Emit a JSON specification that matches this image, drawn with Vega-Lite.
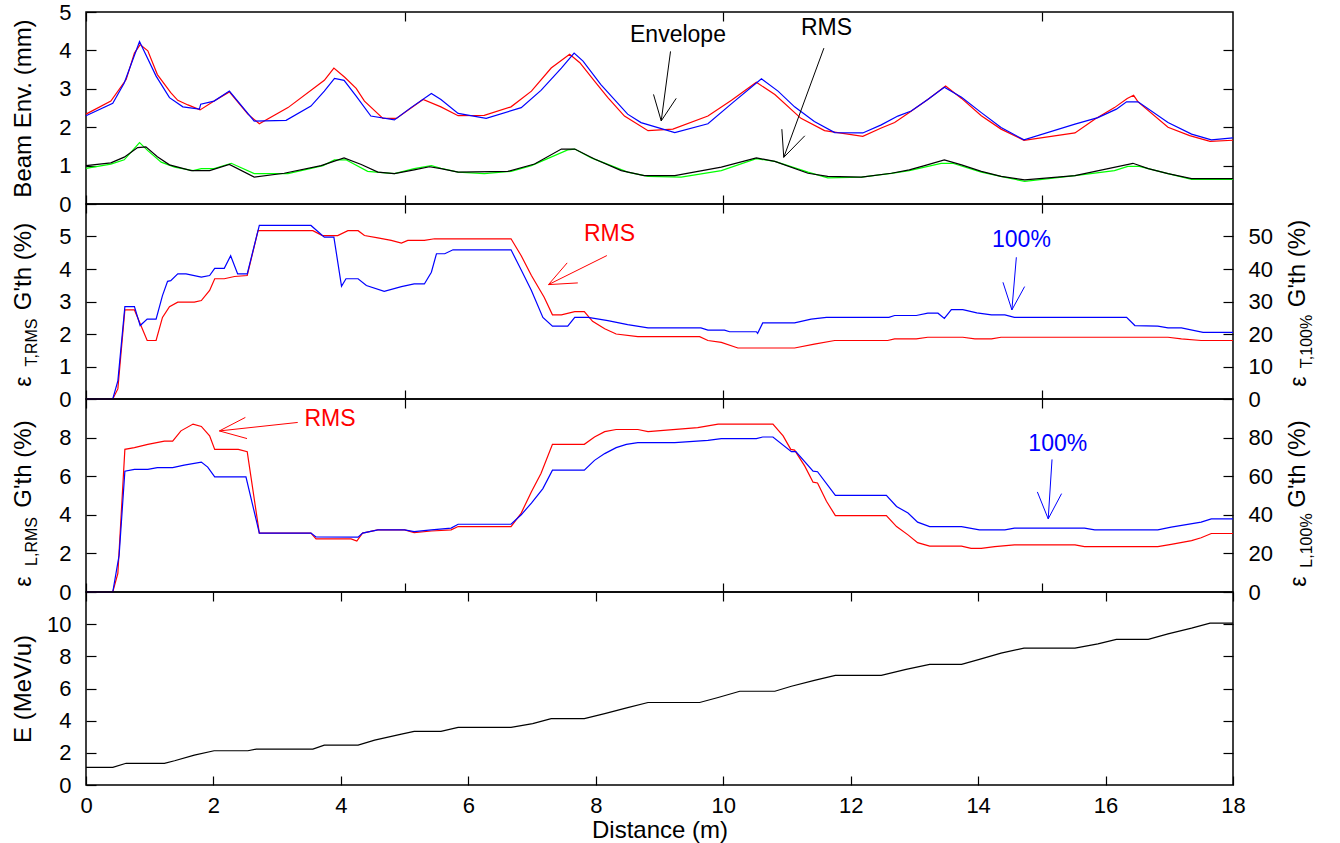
{
"$schema": "https://vega.github.io/schema/vega-lite/v6.json",
"padding": {"left": 10, "top": 0, "right": 5, "bottom": 5},
"spacing": 0,
"bounds": "flush",
"config": {
  "font": "Liberation Sans",
  "view": {"stroke": "black", "strokeWidth": 1.5},
  "axis": {"domain": false, "grid": false, "tickColor": "black", "tickWidth": 1.2, "tickSize": -10, "labelPadding": 25, "labelFont": "Liberation Sans", "labelFontSize": 22, "labelColor": "black", "titleFont": "Liberation Sans", "titleFontSize": 24, "titleFontWeight": "normal", "titleColor": "black", "labelFlush": false},
  "axisX": {"tickSize": -9, "labelPadding": 19},
  "line": {"strokeWidth": 1.2}
},
"datasets": {
  "env": [
    {"series":"Envelope, case A","x":0,"y":2.34},{"series":"Envelope, case A","x":0.39,"y":2.68},{"series":"Envelope, case A","x":0.63,"y":3.24},{"series":"Envelope, case A","x":0.76,"y":3.93},{"series":"Envelope, case A","x":0.85,"y":4.15},{"series":"Envelope, case A","x":0.97,"y":3.99},{"series":"Envelope, case A","x":1.12,"y":3.37},{"series":"Envelope, case A","x":1.33,"y":2.9},{"series":"Envelope, case A","x":1.44,"y":2.7},{"series":"Envelope, case A","x":1.6,"y":2.58},{"series":"Envelope, case A","x":1.79,"y":2.45},{"series":"Envelope, case A","x":2.01,"y":2.68},{"series":"Envelope, case A","x":2.25,"y":2.92},{"series":"Envelope, case A","x":2.54,"y":2.34},{"series":"Envelope, case A","x":2.72,"y":2.09},{"series":"Envelope, case A","x":3.17,"y":2.51},{"series":"Envelope, case A","x":3.74,"y":3.22},{"series":"Envelope, case A","x":3.89,"y":3.54},{"series":"Envelope, case A","x":4.06,"y":3.3},{"series":"Envelope, case A","x":4.24,"y":3.01},{"series":"Envelope, case A","x":4.37,"y":2.68},{"series":"Envelope, case A","x":4.66,"y":2.23},{"series":"Envelope, case A","x":4.87,"y":2.23},{"series":"Envelope, case A","x":5.29,"y":2.72},{"series":"Envelope, case A","x":5.57,"y":2.53},{"series":"Envelope, case A","x":5.84,"y":2.3},{"series":"Envelope, case A","x":6.25,"y":2.31},{"series":"Envelope, case A","x":6.67,"y":2.53},{"series":"Envelope, case A","x":6.99,"y":2.94},{"series":"Envelope, case A","x":7.3,"y":3.54},{"series":"Envelope, case A","x":7.59,"y":3.9},{"series":"Envelope, case A","x":7.75,"y":3.68},{"series":"Envelope, case A","x":7.98,"y":3.2},{"series":"Envelope, case A","x":8.19,"y":2.77},{"series":"Envelope, case A","x":8.45,"y":2.29},{"series":"Envelope, case A","x":8.82,"y":1.91},{"series":"Envelope, case A","x":9.21,"y":1.95},{"series":"Envelope, case A","x":9.76,"y":2.29},{"series":"Envelope, case A","x":10.13,"y":2.7},{"series":"Envelope, case A","x":10.52,"y":3.17},{"series":"Envelope, case A","x":10.81,"y":2.85},{"series":"Envelope, case A","x":11.22,"y":2.23},{"series":"Envelope, case A","x":11.59,"y":1.91},{"series":"Envelope, case A","x":12.19,"y":1.76},{"series":"Envelope, case A","x":12.48,"y":1.98},{"series":"Envelope, case A","x":12.69,"y":2.12},{"series":"Envelope, case A","x":12.92,"y":2.38},{"series":"Envelope, case A","x":13.21,"y":2.72},{"series":"Envelope, case A","x":13.49,"y":3.07},{"series":"Envelope, case A","x":13.74,"y":2.75},{"series":"Envelope, case A","x":14.05,"y":2.3},{"series":"Envelope, case A","x":14.36,"y":1.95},{"series":"Envelope, case A","x":14.72,"y":1.66},{"series":"Envelope, case A","x":15.52,"y":1.85},{"series":"Envelope, case A","x":15.83,"y":2.21},{"series":"Envelope, case A","x":16.14,"y":2.51},{"series":"Envelope, case A","x":16.34,"y":2.75},{"series":"Envelope, case A","x":16.44,"y":2.83},{"series":"Envelope, case A","x":16.51,"y":2.66},{"series":"Envelope, case A","x":16.98,"y":2.0},{"series":"Envelope, case A","x":17.32,"y":1.78},{"series":"Envelope, case A","x":17.64,"y":1.63},{"series":"Envelope, case A","x":18,"y":1.66},
    {"series":"Envelope, case B","x":0,"y":2.3},{"series":"Envelope, case B","x":0.42,"y":2.62},{"series":"Envelope, case B","x":0.6,"y":3.15},{"series":"Envelope, case B","x":0.84,"y":4.23},{"series":"Envelope, case B","x":1.1,"y":3.33},{"series":"Envelope, case B","x":1.31,"y":2.77},{"series":"Envelope, case B","x":1.52,"y":2.53},{"series":"Envelope, case B","x":1.78,"y":2.47},{"series":"Envelope, case B","x":1.8,"y":2.6},{"series":"Envelope, case B","x":2.01,"y":2.68},{"series":"Envelope, case B","x":2.25,"y":2.94},{"series":"Envelope, case B","x":2.64,"y":2.16},{"series":"Envelope, case B","x":3.14,"y":2.18},{"series":"Envelope, case B","x":3.53,"y":2.55},{"series":"Envelope, case B","x":3.74,"y":2.94},{"series":"Envelope, case B","x":3.9,"y":3.27},{"series":"Envelope, case B","x":4.05,"y":3.22},{"series":"Envelope, case B","x":4.24,"y":2.81},{"series":"Envelope, case B","x":4.47,"y":2.29},{"series":"Envelope, case B","x":4.84,"y":2.19},{"series":"Envelope, case B","x":5.1,"y":2.51},{"series":"Envelope, case B","x":5.42,"y":2.88},{"series":"Envelope, case B","x":5.57,"y":2.72},{"series":"Envelope, case B","x":5.84,"y":2.36},{"series":"Envelope, case B","x":6.28,"y":2.23},{"series":"Envelope, case B","x":6.83,"y":2.51},{"series":"Envelope, case B","x":7.14,"y":2.96},{"series":"Envelope, case B","x":7.46,"y":3.54},{"series":"Envelope, case B","x":7.66,"y":3.93},{"series":"Envelope, case B","x":7.8,"y":3.72},{"series":"Envelope, case B","x":8.08,"y":3.11},{"series":"Envelope, case B","x":8.5,"y":2.34},{"series":"Envelope, case B","x":8.71,"y":2.12},{"series":"Envelope, case B","x":9.24,"y":1.86},{"series":"Envelope, case B","x":9.76,"y":2.09},{"series":"Envelope, case B","x":10.15,"y":2.64},{"series":"Envelope, case B","x":10.6,"y":3.26},{"series":"Envelope, case B","x":10.86,"y":2.94},{"series":"Envelope, case B","x":11.12,"y":2.53},{"series":"Envelope, case B","x":11.43,"y":2.15},{"series":"Envelope, case B","x":11.75,"y":1.86},{"series":"Envelope, case B","x":12.19,"y":1.85},{"series":"Envelope, case B","x":12.48,"y":2.06},{"series":"Envelope, case B","x":12.74,"y":2.29},{"series":"Envelope, case B","x":12.95,"y":2.42},{"series":"Envelope, case B","x":13.21,"y":2.72},{"series":"Envelope, case B","x":13.47,"y":3.04},{"series":"Envelope, case B","x":13.74,"y":2.78},{"series":"Envelope, case B","x":14.05,"y":2.38},{"series":"Envelope, case B","x":14.36,"y":1.99},{"series":"Envelope, case B","x":14.72,"y":1.67},{"series":"Envelope, case B","x":15.52,"y":2.08},{"series":"Envelope, case B","x":15.88,"y":2.25},{"series":"Envelope, case B","x":16.17,"y":2.47},{"series":"Envelope, case B","x":16.33,"y":2.66},{"series":"Envelope, case B","x":16.51,"y":2.66},{"series":"Envelope, case B","x":16.98,"y":2.12},{"series":"Envelope, case B","x":17.35,"y":1.82},{"series":"Envelope, case B","x":17.66,"y":1.67},{"series":"Envelope, case B","x":18,"y":1.72},
    {"series":"RMS, case A","x":0,"y":0.93},{"series":"RMS, case A","x":0.39,"y":1.04},{"series":"RMS, case A","x":0.6,"y":1.15},{"series":"RMS, case A","x":0.84,"y":1.6},{"series":"RMS, case A","x":0.97,"y":1.39},{"series":"RMS, case A","x":1.18,"y":1.09},{"series":"RMS, case A","x":1.39,"y":0.96},{"series":"RMS, case A","x":1.68,"y":0.87},{"series":"RMS, case A","x":1.81,"y":0.92},{"series":"RMS, case A","x":2.01,"y":0.92},{"series":"RMS, case A","x":2.28,"y":1.06},{"series":"RMS, case A","x":2.64,"y":0.79},{"series":"RMS, case A","x":3.17,"y":0.79},{"series":"RMS, case A","x":3.72,"y":1.0},{"series":"RMS, case A","x":3.9,"y":1.15},{"series":"RMS, case A","x":4.08,"y":1.15},{"series":"RMS, case A","x":4.42,"y":0.85},{"series":"RMS, case A","x":4.84,"y":0.79},{"series":"RMS, case A","x":5.15,"y":0.92},{"series":"RMS, case A","x":5.42,"y":1.0},{"series":"RMS, case A","x":5.57,"y":0.93},{"series":"RMS, case A","x":5.84,"y":0.83},{"series":"RMS, case A","x":6.25,"y":0.79},{"series":"RMS, case A","x":6.67,"y":0.85},{"series":"RMS, case A","x":6.99,"y":1.0},{"series":"RMS, case A","x":7.56,"y":1.41},{"series":"RMS, case A","x":7.67,"y":1.43},{"series":"RMS, case A","x":7.93,"y":1.2},{"series":"RMS, case A","x":8.5,"y":0.83},{"series":"RMS, case A","x":8.82,"y":0.72},{"series":"RMS, case A","x":9.34,"y":0.7},{"series":"RMS, case A","x":9.97,"y":0.87},{"series":"RMS, case A","x":10.52,"y":1.18},{"series":"RMS, case A","x":10.81,"y":1.11},{"series":"RMS, case A","x":11.33,"y":0.83},{"series":"RMS, case A","x":11.64,"y":0.68},{"series":"RMS, case A","x":12.17,"y":0.7},{"series":"RMS, case A","x":12.64,"y":0.8},{"series":"RMS, case A","x":12.92,"y":0.87},{"series":"RMS, case A","x":13.42,"y":1.06},{"series":"RMS, case A","x":13.6,"y":1.06},{"series":"RMS, case A","x":14.05,"y":0.83},{"series":"RMS, case A","x":14.41,"y":0.7},{"series":"RMS, case A","x":14.73,"y":0.59},{"series":"RMS, case A","x":15.52,"y":0.74},{"series":"RMS, case A","x":16.14,"y":0.87},{"series":"RMS, case A","x":16.35,"y":0.98},{"series":"RMS, case A","x":16.53,"y":0.98},{"series":"RMS, case A","x":16.98,"y":0.79},{"series":"RMS, case A","x":17.35,"y":0.64},{"series":"RMS, case A","x":18,"y":0.64},
    {"series":"RMS, case B","x":0,"y":1.0},{"series":"RMS, case B","x":0.39,"y":1.07},{"series":"RMS, case B","x":0.6,"y":1.22},{"series":"RMS, case B","x":0.81,"y":1.47},{"series":"RMS, case B","x":0.94,"y":1.49},{"series":"RMS, case B","x":1.12,"y":1.23},{"series":"RMS, case B","x":1.31,"y":1.02},{"series":"RMS, case B","x":1.65,"y":0.87},{"series":"RMS, case B","x":1.94,"y":0.87},{"series":"RMS, case B","x":2.25,"y":1.03},{"series":"RMS, case B","x":2.64,"y":0.7},{"series":"RMS, case B","x":3.11,"y":0.8},{"series":"RMS, case B","x":3.69,"y":1.0},{"series":"RMS, case B","x":4.05,"y":1.2},{"series":"RMS, case B","x":4.32,"y":1.03},{"series":"RMS, case B","x":4.58,"y":0.83},{"series":"RMS, case B","x":4.84,"y":0.79},{"series":"RMS, case B","x":5.15,"y":0.89},{"series":"RMS, case B","x":5.39,"y":0.97},{"series":"RMS, case B","x":5.57,"y":0.92},{"series":"RMS, case B","x":5.84,"y":0.83},{"series":"RMS, case B","x":6.62,"y":0.85},{"series":"RMS, case B","x":7.04,"y":1.04},{"series":"RMS, case B","x":7.46,"y":1.43},{"series":"RMS, case B","x":7.67,"y":1.43},{"series":"RMS, case B","x":7.98,"y":1.17},{"series":"RMS, case B","x":8.4,"y":0.87},{"series":"RMS, case B","x":8.76,"y":0.74},{"series":"RMS, case B","x":9.24,"y":0.74},{"series":"RMS, case B","x":9.97,"y":0.96},{"series":"RMS, case B","x":10.52,"y":1.2},{"series":"RMS, case B","x":10.81,"y":1.11},{"series":"RMS, case B","x":11.33,"y":0.8},{"series":"RMS, case B","x":11.64,"y":0.72},{"series":"RMS, case B","x":12.17,"y":0.7},{"series":"RMS, case B","x":12.64,"y":0.8},{"series":"RMS, case B","x":12.92,"y":0.89},{"series":"RMS, case B","x":13.16,"y":1.0},{"series":"RMS, case B","x":13.47,"y":1.15},{"series":"RMS, case B","x":13.74,"y":1.02},{"series":"RMS, case B","x":14.05,"y":0.85},{"series":"RMS, case B","x":14.36,"y":0.72},{"series":"RMS, case B","x":14.73,"y":0.63},{"series":"RMS, case B","x":15.52,"y":0.74},{"series":"RMS, case B","x":16.04,"y":0.92},{"series":"RMS, case B","x":16.43,"y":1.06},{"series":"RMS, case B","x":16.67,"y":0.92},{"series":"RMS, case B","x":16.98,"y":0.79},{"series":"RMS, case B","x":17.35,"y":0.66},{"series":"RMS, case B","x":18,"y":0.66}
  ],
  "trms": [
    {"x":0,"y":0},{"x":0.42,"y":0},{"x":0.5,"y":0.31},{"x":0.61,"y":2.74},{"x":0.76,"y":2.74},{"x":0.96,"y":1.8},{"x":1.1,"y":1.8},{"x":1.2,"y":2.51},{"x":1.31,"y":2.84},{"x":1.44,"y":2.98},{"x":1.7,"y":2.98},{"x":1.81,"y":3.03},{"x":1.94,"y":3.34},{"x":2.02,"y":3.7},{"x":2.17,"y":3.7},{"x":2.33,"y":3.77},{"x":2.53,"y":3.8},{"x":2.7,"y":5.18},{"x":3.56,"y":5.18},{"x":3.71,"y":5.03},{"x":3.95,"y":5.03},{"x":4.11,"y":5.18},{"x":4.27,"y":5.18},{"x":4.37,"y":5.03},{"x":4.58,"y":4.96},{"x":4.79,"y":4.88},{"x":4.95,"y":4.8},{"x":5.05,"y":4.88},{"x":5.31,"y":4.88},{"x":5.47,"y":4.93},{"x":6.67,"y":4.93},{"x":6.83,"y":4.41},{"x":6.99,"y":3.8},{"x":7.19,"y":3.13},{"x":7.32,"y":2.59},{"x":7.46,"y":2.59},{"x":7.67,"y":2.69},{"x":7.82,"y":2.69},{"x":7.95,"y":2.39},{"x":8.14,"y":2.16},{"x":8.32,"y":2.0},{"x":8.66,"y":1.92},{"x":9.63,"y":1.92},{"x":9.76,"y":1.8},{"x":9.97,"y":1.74},{"x":10.23,"y":1.57},{"x":11.12,"y":1.57},{"x":11.43,"y":1.69},{"x":11.75,"y":1.8},{"x":12.58,"y":1.8},{"x":12.69,"y":1.85},{"x":13.03,"y":1.85},{"x":13.21,"y":1.9},{"x":13.76,"y":1.9},{"x":13.95,"y":1.85},{"x":14.21,"y":1.85},{"x":14.36,"y":1.9},{"x":16.98,"y":1.9},{"x":17.19,"y":1.85},{"x":17.5,"y":1.8},{"x":18,"y":1.8}
  ],
  "t100": [
    {"x":0,"y":0},{"x":0.42,"y":0},{"x":0.5,"y":5.6},{"x":0.61,"y":28.4},{"x":0.76,"y":28.4},{"x":0.85,"y":22.6},{"x":0.96,"y":24.6},{"x":1.1,"y":24.6},{"x":1.2,"y":31.8},{"x":1.28,"y":36.2},{"x":1.33,"y":36.4},{"x":1.44,"y":38.5},{"x":1.57,"y":38.5},{"x":1.81,"y":37.5},{"x":1.94,"y":38.0},{"x":2.02,"y":40.2},{"x":2.17,"y":40.2},{"x":2.27,"y":44.1},{"x":2.38,"y":38.5},{"x":2.53,"y":38.5},{"x":2.72,"y":53.4},{"x":3.53,"y":53.4},{"x":3.74,"y":49.8},{"x":3.89,"y":49.8},{"x":4.01,"y":34.7},{"x":4.08,"y":37.0},{"x":4.27,"y":37.0},{"x":4.4,"y":34.9},{"x":4.68,"y":33.1},{"x":4.95,"y":34.6},{"x":5.15,"y":35.4},{"x":5.31,"y":35.4},{"x":5.42,"y":39.0},{"x":5.5,"y":44.7},{"x":5.63,"y":44.7},{"x":5.76,"y":45.9},{"x":6.67,"y":45.9},{"x":6.83,"y":39.7},{"x":6.99,"y":33.4},{"x":7.17,"y":25.1},{"x":7.32,"y":22.4},{"x":7.56,"y":22.4},{"x":7.67,"y":25.1},{"x":7.88,"y":25.1},{"x":8.19,"y":24.1},{"x":8.5,"y":22.9},{"x":8.82,"y":21.9},{"x":9.65,"y":21.9},{"x":9.76,"y":21.2},{"x":10.02,"y":21.2},{"x":10.1,"y":20.7},{"x":10.52,"y":20.7},{"x":10.54,"y":20.2},{"x":10.62,"y":23.4},{"x":11.12,"y":23.4},{"x":11.38,"y":24.6},{"x":11.62,"y":25.1},{"x":12.6,"y":25.1},{"x":12.69,"y":25.7},{"x":13.03,"y":25.7},{"x":13.21,"y":26.4},{"x":13.37,"y":26.4},{"x":13.47,"y":24.8},{"x":13.58,"y":27.5},{"x":13.76,"y":27.5},{"x":13.98,"y":26.5},{"x":14.21,"y":25.9},{"x":14.42,"y":25.9},{"x":14.57,"y":25.1},{"x":16.33,"y":25.1},{"x":16.46,"y":22.6},{"x":16.82,"y":22.4},{"x":16.98,"y":21.9},{"x":17.19,"y":21.9},{"x":17.53,"y":20.5},{"x":18,"y":20.5}
  ],
  "lrms": [
    {"x":0,"y":0},{"x":0.42,"y":0},{"x":0.5,"y":0.96},{"x":0.61,"y":7.39},{"x":0.76,"y":7.48},{"x":0.97,"y":7.65},{"x":1.23,"y":7.82},{"x":1.36,"y":7.82},{"x":1.49,"y":8.35},{"x":1.68,"y":8.7},{"x":1.81,"y":8.58},{"x":1.94,"y":8.09},{"x":2.02,"y":7.39},{"x":2.39,"y":7.39},{"x":2.53,"y":7.27},{"x":2.72,"y":3.05},{"x":3.53,"y":3.05},{"x":3.61,"y":2.75},{"x":4.16,"y":2.75},{"x":4.25,"y":2.64},{"x":4.34,"y":3.05},{"x":4.58,"y":3.22},{"x":5.0,"y":3.22},{"x":5.15,"y":3.08},{"x":5.42,"y":3.16},{"x":5.73,"y":3.22},{"x":5.84,"y":3.39},{"x":6.67,"y":3.39},{"x":6.83,"y":4.09},{"x":6.99,"y":5.19},{"x":7.14,"y":6.14},{"x":7.32,"y":7.65},{"x":7.82,"y":7.65},{"x":7.98,"y":8.03},{"x":8.14,"y":8.31},{"x":8.32,"y":8.42},{"x":8.66,"y":8.42},{"x":8.82,"y":8.31},{"x":9.6,"y":8.52},{"x":9.92,"y":8.7},{"x":10.78,"y":8.7},{"x":10.94,"y":8.09},{"x":11.06,"y":7.39},{"x":11.12,"y":7.35},{"x":11.28,"y":6.52},{"x":11.41,"y":5.69},{"x":11.48,"y":5.65},{"x":11.62,"y":4.7},{"x":11.76,"y":3.96},{"x":12.56,"y":3.96},{"x":12.72,"y":3.39},{"x":12.9,"y":2.96},{"x":13.05,"y":2.56},{"x":13.24,"y":2.38},{"x":13.74,"y":2.38},{"x":13.89,"y":2.26},{"x":14.05,"y":2.26},{"x":14.26,"y":2.35},{"x":14.57,"y":2.44},{"x":15.52,"y":2.44},{"x":15.67,"y":2.35},{"x":16.82,"y":2.35},{"x":17.03,"y":2.47},{"x":17.35,"y":2.66},{"x":17.5,"y":2.81},{"x":17.66,"y":3.03},{"x":18,"y":3.03}
  ],
  "l100": [
    {"x":0,"y":0},{"x":0.42,"y":0},{"x":0.52,"y":19.1},{"x":0.61,"y":62.6},{"x":0.76,"y":63.5},{"x":0.97,"y":63.5},{"x":1.12,"y":64.4},{"x":1.36,"y":64.4},{"x":1.54,"y":65.7},{"x":1.81,"y":67.3},{"x":1.91,"y":64.7},{"x":2.02,"y":59.7},{"x":2.51,"y":59.7},{"x":2.72,"y":30.5},{"x":3.53,"y":30.5},{"x":3.61,"y":28.5},{"x":4.27,"y":28.4},{"x":4.34,"y":30.5},{"x":4.58,"y":32.2},{"x":5.0,"y":32.2},{"x":5.15,"y":31.3},{"x":5.42,"y":32.2},{"x":5.73,"y":33.1},{"x":5.84,"y":35.1},{"x":6.67,"y":35.1},{"x":6.83,"y":40.0},{"x":6.99,"y":46.1},{"x":7.17,"y":53.6},{"x":7.32,"y":63.1},{"x":7.82,"y":63.1},{"x":7.98,"y":68.2},{"x":8.14,"y":71.7},{"x":8.32,"y":74.8},{"x":8.48,"y":76.5},{"x":8.66,"y":77.4},{"x":9.24,"y":77.4},{"x":9.76,"y":78.6},{"x":9.97,"y":79.5},{"x":10.52,"y":79.5},{"x":10.62,"y":80.3},{"x":10.78,"y":80.3},{"x":11.07,"y":72.7},{"x":11.14,"y":72.7},{"x":11.41,"y":62.6},{"x":11.48,"y":62.3},{"x":11.76,"y":50.1},{"x":12.56,"y":50.1},{"x":12.72,"y":44.3},{"x":12.9,"y":40.9},{"x":13.05,"y":36.2},{"x":13.24,"y":33.9},{"x":13.74,"y":33.9},{"x":14.02,"y":32.2},{"x":14.42,"y":32.2},{"x":14.57,"y":33.1},{"x":15.67,"y":33.1},{"x":15.83,"y":32.2},{"x":16.82,"y":32.2},{"x":17.03,"y":33.6},{"x":17.5,"y":36.2},{"x":17.66,"y":37.9},{"x":18,"y":37.9}
  ],
  "energy": [
    {"x":0,"y":1.1},{"x":0.42,"y":1.1},{"x":0.63,"y":1.35},{"x":1.23,"y":1.35},{"x":1.39,"y":1.51},{"x":1.7,"y":1.86},{"x":2.01,"y":2.13},{"x":2.54,"y":2.13},{"x":2.67,"y":2.23},{"x":3.56,"y":2.23},{"x":3.74,"y":2.48},{"x":4.27,"y":2.48},{"x":4.53,"y":2.79},{"x":4.95,"y":3.16},{"x":5.15,"y":3.33},{"x":5.57,"y":3.33},{"x":5.84,"y":3.58},{"x":6.67,"y":3.58},{"x":7.01,"y":3.82},{"x":7.3,"y":4.13},{"x":7.82,"y":4.13},{"x":8.14,"y":4.44},{"x":8.5,"y":4.81},{"x":8.82,"y":5.13},{"x":9.63,"y":5.13},{"x":9.92,"y":5.44},{"x":10.26,"y":5.83},{"x":10.81,"y":5.83},{"x":11.07,"y":6.14},{"x":11.43,"y":6.51},{"x":11.76,"y":6.82},{"x":12.48,"y":6.82},{"x":12.87,"y":7.19},{"x":13.24,"y":7.5},{"x":13.74,"y":7.5},{"x":14.02,"y":7.81},{"x":14.36,"y":8.2},{"x":14.72,"y":8.51},{"x":15.52,"y":8.51},{"x":15.88,"y":8.78},{"x":16.17,"y":9.05},{"x":16.67,"y":9.05},{"x":16.98,"y":9.4},{"x":17.35,"y":9.75},{"x":17.64,"y":10.06},{"x":18,"y":10.06}
  ],
  "notes1": [
    {"x":9.29,"y":4.41,"label":"Envelope"},
    {"x":11.62,"y":4.58,"label":"RMS"}
  ],
  "arrows1": [
    {"x":9.173,"y":3.974,"x2":9.027,"y2":2.164},
    {"x":8.906,"y":2.854,"x2":9.027,"y2":2.164},
    {"x":9.262,"y":2.751,"x2":9.027,"y2":2.164},
    {"x":11.58,"y":4.059,"x2":10.95,"y2":1.215},
    {"x":10.92,"y":1.949,"x2":10.95,"y2":1.215},
    {"x":11.28,"y":1.776,"x2":10.95,"y2":1.215}
  ],
  "notes2": [
    {"x":8.215,"y":5.08,"label":"RMS","group":"RMS"},
    {"x":14.68,"y":4.9,"label":"100%","group":"100%"}
  ],
  "arrows2": [
    {"x":8.174,"y":4.413,"x2":7.258,"y2":3.52,"group":"RMS"},
    {"x":7.551,"y":4.188,"x2":7.258,"y2":3.52,"group":"RMS"},
    {"x":7.718,"y":3.572,"x2":7.258,"y2":3.52,"group":"RMS"},
    {"x":14.6,"y":4.361,"x2":14.53,"y2":2.741,"group":"100%"},
    {"x":14.39,"y":3.591,"x2":14.53,"y2":2.741,"group":"100%"},
    {"x":14.73,"y":3.459,"x2":14.53,"y2":2.741,"group":"100%"}
  ],
  "notes3": [
    {"x":3.83,"y":8.96,"label":"RMS","group":"RMS"},
    {"x":15.25,"y":7.69,"label":"100%","group":"100%"}
  ],
  "arrows3": [
    {"x":3.323,"y":8.785,"x2":2.093,"y2":8.346,"group":"RMS"},
    {"x":2.501,"y":9.045,"x2":2.093,"y2":8.346,"group":"RMS"},
    {"x":2.527,"y":7.95,"x2":2.093,"y2":8.346,"group":"RMS"},
    {"x":15.16,"y":6.87,"x2":15.1,"y2":3.79,"group":"100%"},
    {"x":14.93,"y":5.185,"x2":15.1,"y2":3.79,"group":"100%"},
    {"x":15.31,"y":5.097,"x2":15.1,"y2":3.79,"group":"100%"}
  ]
},
"vconcat": [
  {
    "width": 1147, "height": 192,
    "layer": [
      {"data": {"name": "env"}, "mark": {"type": "line", "strokeWidth": 1.2},
       "encoding": {
         "x": {"field": "x", "type": "quantitative", "scale": {"domain": [0, 18], "nice": false, "zero": false}, "axis": {"orient": "bottom", "values": [0, 5, 10, 15], "labels": false, "title": null}},
         "y": {"field": "y", "type": "quantitative", "scale": {"domain": [0, 5], "nice": false, "zero": false}, "axis": {"orient": "left", "values": [0, 1, 2, 3, 4, 5], "title": "Beam Env. (mm)", "titleX": -62.5, "titleBaseline": "middle", "titleAngle": 270}},
         "color": {"field": "series", "type": "nominal", "scale": {"domain": ["Envelope, case A", "Envelope, case B", "RMS, case A", "RMS, case B"], "range": ["#ff0000", "#0000ff", "#00ff00", "#000000"]}, "legend": null}
       }},
      {"data": {"name": "env"}, "mark": {"type": "line", "opacity": 0},
       "encoding": {
         "x": {"field": "x", "type": "quantitative", "scale": {"domain": [0, 18], "nice": false, "zero": false}, "axis": {"orient": "top", "values": [0, 5, 10, 15], "labels": false, "title": null}},
         "y": {"field": "y", "type": "quantitative", "scale": {"domain": [0, 5], "nice": false, "zero": false}, "axis": {"orient": "right", "values": [1, 2, 3, 4], "labels": false, "title": null}}
       }},
      {"data": {"name": "arrows1"}, "mark": {"type": "rule", "color": "black", "strokeWidth": 1},
       "encoding": {
         "x": {"field": "x", "type": "quantitative", "scale": {"domain": [0, 18], "nice": false, "zero": false}, "axis": null},
         "y": {"field": "y", "type": "quantitative", "scale": {"domain": [0, 5], "nice": false, "zero": false}, "axis": null},
         "x2": {"field": "x2"}, "y2": {"field": "y2"}
       }},
      {"data": {"name": "notes1"}, "mark": {"type": "text", "fontSize": 23, "color": "black", "font": "Liberation Sans", "align": "center", "baseline": "middle"},
       "encoding": {
         "x": {"field": "x", "type": "quantitative", "scale": {"domain": [0, 18], "nice": false, "zero": false}, "axis": null},
         "y": {"field": "y", "type": "quantitative", "scale": {"domain": [0, 5], "nice": false, "zero": false}, "axis": null},
         "text": {"field": "label"}
       }}
    ],
    "resolve": {"axis": {"x": "independent", "y": "independent"}}
  },
  {
    "width": 1147, "height": 195,
    "layer": [
      {"data": {"name": "trms"}, "mark": {"type": "line", "color": "#ff0000", "strokeWidth": 1.2},
       "encoding": {
         "x": {"field": "x", "type": "quantitative", "scale": {"domain": [0, 18], "nice": false, "zero": false}, "axis": {"orient": "bottom", "values": [0, 5, 10, 15], "labels": false, "title": null}},
         "y": {"field": "y", "type": "quantitative", "scale": {"domain": [0, 6], "nice": false, "zero": false}, "axis": {"orient": "left", "values": [0, 1, 2, 3, 4, 5], "title": "G'th (%)", "titleX": -62.5, "titleY": 62, "titleBaseline": "middle", "titleAngle": 270}}
       }},
      {"data": {"name": "t100"}, "mark": {"type": "line", "color": "#0000ff", "strokeWidth": 1.2},
       "encoding": {
         "x": {"field": "x", "type": "quantitative", "scale": {"domain": [0, 18], "nice": false, "zero": false}, "axis": {"orient": "top", "values": [0, 5, 10, 15], "labels": false, "title": null}},
         "y": {"field": "y", "type": "quantitative", "scale": {"domain": [0, 60], "nice": false, "zero": false}, "axis": {"orient": "right", "values": [0, 10, 20, 30, 40, 50], "title": "G'th (%)", "titleX": 64, "titleY": 59, "titleBaseline": "middle", "titleAngle": 270}}
       }},
      {"data": {"name": "trms"}, "mark": {"type": "line", "opacity": 0},
       "encoding": {
         "x": {"field": "x", "type": "quantitative", "scale": {"domain": [0, 18], "nice": false, "zero": false}, "axis": null},
         "y": {"field": "y", "type": "quantitative", "scale": {"domain": [0, 6], "nice": false, "zero": false}, "axis": {"orient": "left", "labels": false, "ticks": false, "title": "ε", "titleFontSize": 23, "titleX": -63, "titleY": 177, "titleBaseline": "middle", "titleAngle": 270}}
       }},
      {"data": {"name": "trms"}, "mark": {"type": "line", "opacity": 0},
       "encoding": {
         "x": {"field": "x", "type": "quantitative", "scale": {"domain": [0, 18], "nice": false, "zero": false}, "axis": null},
         "y": {"field": "y", "type": "quantitative", "scale": {"domain": [0, 6], "nice": false, "zero": false}, "axis": {"orient": "left", "labels": false, "ticks": false, "title": "T,RMS", "titleFontSize": 16, "titleX": -55, "titleY": 138, "titleBaseline": "middle", "titleAngle": 270}}
       }},
      {"data": {"name": "t100"}, "mark": {"type": "line", "opacity": 0},
       "encoding": {
         "x": {"field": "x", "type": "quantitative", "scale": {"domain": [0, 18], "nice": false, "zero": false}, "axis": null},
         "y": {"field": "y", "type": "quantitative", "scale": {"domain": [0, 60], "nice": false, "zero": false}, "axis": {"orient": "right", "labels": false, "ticks": false, "title": "ε", "titleFontSize": 23, "titleX": 65, "titleY": 177, "titleBaseline": "middle", "titleAngle": 270}}
       }},
      {"data": {"name": "t100"}, "mark": {"type": "line", "opacity": 0},
       "encoding": {
         "x": {"field": "x", "type": "quantitative", "scale": {"domain": [0, 18], "nice": false, "zero": false}, "axis": null},
         "y": {"field": "y", "type": "quantitative", "scale": {"domain": [0, 60], "nice": false, "zero": false}, "axis": {"orient": "right", "labels": false, "ticks": false, "title": "T,100%", "titleFontSize": 16, "titleX": 73, "titleY": 137, "titleBaseline": "middle", "titleAngle": 270}}
       }},
      {"data": {"name": "arrows2"}, "mark": {"type": "rule", "strokeWidth": 1},
       "encoding": {
         "x": {"field": "x", "type": "quantitative", "scale": {"domain": [0, 18], "nice": false, "zero": false}, "axis": null},
         "y": {"field": "y", "type": "quantitative", "scale": {"domain": [0, 6], "nice": false, "zero": false}, "axis": null},
         "x2": {"field": "x2"}, "y2": {"field": "y2"},
         "color": {"field": "group", "type": "nominal", "scale": {"domain": ["RMS", "100%"], "range": ["#ff0000", "#0000ff"]}, "legend": null}
       }},
      {"data": {"name": "notes2"}, "mark": {"type": "text", "fontSize": 23, "font": "Liberation Sans", "align": "center", "baseline": "middle"},
       "encoding": {
         "x": {"field": "x", "type": "quantitative", "scale": {"domain": [0, 18], "nice": false, "zero": false}, "axis": null},
         "y": {"field": "y", "type": "quantitative", "scale": {"domain": [0, 6], "nice": false, "zero": false}, "axis": null},
         "text": {"field": "label"},
         "color": {"field": "group", "type": "nominal", "scale": {"domain": ["RMS", "100%"], "range": ["#ff0000", "#0000ff"]}, "legend": null}
       }}
    ],
    "resolve": {"scale": {"y": "independent"}, "axis": {"x": "independent", "y": "independent"}}
  },
  {
    "width": 1147, "height": 193,
    "layer": [
      {"data": {"name": "lrms"}, "mark": {"type": "line", "color": "#ff0000", "strokeWidth": 1.2},
       "encoding": {
         "x": {"field": "x", "type": "quantitative", "scale": {"domain": [0, 18], "nice": false, "zero": false}, "axis": {"orient": "bottom", "values": [0, 5, 10, 15], "labels": false, "title": null}},
         "y": {"field": "y", "type": "quantitative", "scale": {"domain": [0, 10], "nice": false, "zero": false}, "axis": {"orient": "left", "values": [0, 2, 4, 6, 8], "title": "G'th (%)", "titleX": -62.5, "titleY": 64.5, "titleBaseline": "middle", "titleAngle": 270}}
       }},
      {"data": {"name": "l100"}, "mark": {"type": "line", "color": "#0000ff", "strokeWidth": 1.2},
       "encoding": {
         "x": {"field": "x", "type": "quantitative", "scale": {"domain": [0, 18], "nice": false, "zero": false}, "axis": {"orient": "top", "values": [0, 5, 10, 15], "labels": false, "title": null}},
         "y": {"field": "y", "type": "quantitative", "scale": {"domain": [0, 100], "nice": false, "zero": false}, "axis": {"orient": "right", "values": [0, 20, 40, 60, 80], "title": "G'th (%)", "titleX": 64, "titleY": 64.5, "titleBaseline": "middle", "titleAngle": 270}}
       }},
      {"data": {"name": "lrms"}, "mark": {"type": "line", "opacity": 0},
       "encoding": {
         "x": {"field": "x", "type": "quantitative", "scale": {"domain": [0, 18], "nice": false, "zero": false}, "axis": null},
         "y": {"field": "y", "type": "quantitative", "scale": {"domain": [0, 10], "nice": false, "zero": false}, "axis": {"orient": "left", "labels": false, "ticks": false, "title": "ε", "titleFontSize": 23, "titleX": -63, "titleY": 182, "titleBaseline": "middle", "titleAngle": 270}}
       }},
      {"data": {"name": "lrms"}, "mark": {"type": "line", "opacity": 0},
       "encoding": {
         "x": {"field": "x", "type": "quantitative", "scale": {"domain": [0, 18], "nice": false, "zero": false}, "axis": null},
         "y": {"field": "y", "type": "quantitative", "scale": {"domain": [0, 10], "nice": false, "zero": false}, "axis": {"orient": "left", "labels": false, "ticks": false, "title": "L,RMS", "titleFontSize": 16, "titleX": -55, "titleY": 142, "titleBaseline": "middle", "titleAngle": 270}}
       }},
      {"data": {"name": "l100"}, "mark": {"type": "line", "opacity": 0},
       "encoding": {
         "x": {"field": "x", "type": "quantitative", "scale": {"domain": [0, 18], "nice": false, "zero": false}, "axis": null},
         "y": {"field": "y", "type": "quantitative", "scale": {"domain": [0, 100], "nice": false, "zero": false}, "axis": {"orient": "right", "labels": false, "ticks": false, "title": "ε", "titleFontSize": 23, "titleX": 65, "titleY": 182, "titleBaseline": "middle", "titleAngle": 270}}
       }},
      {"data": {"name": "l100"}, "mark": {"type": "line", "opacity": 0},
       "encoding": {
         "x": {"field": "x", "type": "quantitative", "scale": {"domain": [0, 18], "nice": false, "zero": false}, "axis": null},
         "y": {"field": "y", "type": "quantitative", "scale": {"domain": [0, 100], "nice": false, "zero": false}, "axis": {"orient": "right", "labels": false, "ticks": false, "title": "L,100%", "titleFontSize": 16, "titleX": 73, "titleY": 141, "titleBaseline": "middle", "titleAngle": 270}}
       }},
      {"data": {"name": "arrows3"}, "mark": {"type": "rule", "strokeWidth": 1},
       "encoding": {
         "x": {"field": "x", "type": "quantitative", "scale": {"domain": [0, 18], "nice": false, "zero": false}, "axis": null},
         "y": {"field": "y", "type": "quantitative", "scale": {"domain": [0, 10], "nice": false, "zero": false}, "axis": null},
         "x2": {"field": "x2"}, "y2": {"field": "y2"},
         "color": {"field": "group", "type": "nominal", "scale": {"domain": ["RMS", "100%"], "range": ["#ff0000", "#0000ff"]}, "legend": null}
       }},
      {"data": {"name": "notes3"}, "mark": {"type": "text", "fontSize": 23, "font": "Liberation Sans", "align": "center", "baseline": "middle"},
       "encoding": {
         "x": {"field": "x", "type": "quantitative", "scale": {"domain": [0, 18], "nice": false, "zero": false}, "axis": null},
         "y": {"field": "y", "type": "quantitative", "scale": {"domain": [0, 10], "nice": false, "zero": false}, "axis": null},
         "text": {"field": "label"},
         "color": {"field": "group", "type": "nominal", "scale": {"domain": ["RMS", "100%"], "range": ["#ff0000", "#0000ff"]}, "legend": null}
       }}
    ],
    "resolve": {"scale": {"y": "independent"}, "axis": {"x": "independent", "y": "independent"}}
  },
  {
    "width": 1147, "height": 193,
    "layer": [
      {"data": {"name": "energy"}, "mark": {"type": "line", "color": "black", "strokeWidth": 1.2},
       "encoding": {
         "x": {"field": "x", "type": "quantitative", "scale": {"domain": [0, 18], "nice": false, "zero": false}, "axis": {"orient": "bottom", "values": [0, 2, 4, 6, 8, 10, 12, 14, 16, 18], "labelFlush": false, "title": "Distance (m)", "titlePadding": 2}},
         "y": {"field": "y", "type": "quantitative", "scale": {"domain": [0, 12], "nice": false, "zero": false}, "axis": {"orient": "left", "values": [0, 2, 4, 6, 8, 10], "title": "E (MeV/u)", "titleX": -62.5, "titleBaseline": "middle", "titleAngle": 270}}
       }},
      {"data": {"name": "energy"}, "mark": {"type": "line", "opacity": 0},
       "encoding": {
         "x": {"field": "x", "type": "quantitative", "scale": {"domain": [0, 18], "nice": false, "zero": false}, "axis": {"orient": "top", "values": [0, 2, 4, 6, 8, 10, 12, 14, 16, 18], "labels": false, "title": null}},
         "y": {"field": "y", "type": "quantitative", "scale": {"domain": [0, 12], "nice": false, "zero": false}, "axis": {"orient": "right", "values": [2, 4, 6, 8, 10], "labels": false, "title": null}}
       }}
    ],
    "resolve": {"axis": {"x": "independent", "y": "independent"}}
  }
]
}
